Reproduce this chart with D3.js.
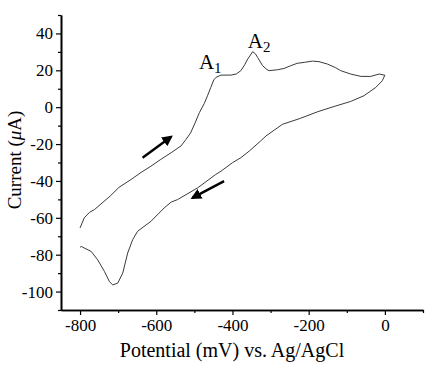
<!DOCTYPE html>
<html>
<head>
<meta charset="utf-8">
<script src="https://cdn.jsdelivr.net/npm/d3@7"></script>
<style>
    body { margin: 0; background: #fff; }
    svg { display: block; }
</style>
</head>
<body>
<svg width="430" height="375"></svg>
<script>
// forward scan (-800 -> 0 mV)
const forwardPotential = [-800, -789, -775, -762, -745, -720, -698, -666, -640, -614, -588, -561, -535, -522, -510, -498, -487, -474, -465, -457, -449, -443, -430, -404, -390, -378, -368, -360, -347, -340, -334, -321, -310, -304, -282, -265, -247, -230, -212, -190, -173, -151, -130, -116, -90, -63, -37, -15, -2, 0];
const forwardCurrent = [-65.5, -60, -57, -55.5, -52.5, -48, -43.5, -39.2, -35.4, -32, -28.3, -24.7, -21, -17.5, -14, -8.5, -3, 2, 6.5, 10.7, 14.8, 16.2, 17.4, 17.4, 18, 19.8, 23, 26.1, 30.1, 29, 27, 22.5, 20.5, 19.8, 20.3, 21, 22.5, 23.8, 24.3, 25, 24.7, 23.4, 21.5, 19.8, 18, 16.7, 16.7, 18, 17.4, 17.4];

// reverse scan (0 -> -800 mV)
const reversePotential = [0, -7, -24, -55, -90, -133, -177, -221, -269, -312, -326, -356, -378, -400, -430, -444, -491, -544, -561, -579, -614, -649, -662, -675, -688, -701, -714, -723, -736, -754, -771, -784, -797, -800];
const reverseCurrent = [17.4, 14.3, 10.7, 6.2, 3.1, 0.4, -2.5, -6, -9.3, -15.6, -18.3, -23.8, -27.4, -30.1, -34.7, -36.5, -43.7, -50.1, -51.5, -54.6, -61.9, -67.3, -71.9, -79.1, -90, -95.4, -96.4, -94.6, -89.1, -82.7, -78.2, -76.9, -75.5, -76];

const xTicks = [-800, -600, -400, -200, 0];
const xMinorTicks = [-700, -500, -300, -100, 100];
const yTicks = [-100, -80, -60, -40, -20, 0, 20, 40];
const yMinorTicks = [-110, -90, -70, -50, -30, -10, 10, 30, 50];

// arrows: [tail, head] in data units
const arrows = [
    [[-636, -27.4], [-561, -16]],
    [[-422, -40.1], [-505, -49.2]]
];

const svg = d3.select('svg');
const serif = '"Liberation Serif", "Times New Roman", serif';

const xScale = d3.scaleLinear()
    .domain([-850, 100])
    .range([61, 423]);
const yScale = d3.scaleLinear()
    .domain([-110, 50])
    .range([310, 15]);

// Curve
const line = d3.line()
    .x(d => xScale(d[0]))
    .y(d => yScale(d[1]));
const forward = forwardPotential.map((v, i) => [v, forwardCurrent[i]]);
const reverse = reversePotential.map((v, i) => [v, reverseCurrent[i]]);

svg.append('path')
    .datum(forward.concat(reverse))
    .attr('d', line)
    .attr('fill', 'none')
    .attr('stroke', '#3a3a3a')
    .attr('stroke-width', 1)
    .attr('stroke-linejoin', 'round');

// Axes
const xAxis = svg.append('g')
    .attr('transform', `translate(0, ${yScale(-110)})`)
    .call(d3.axisBottom(xScale).tickValues(xTicks).tickSize(5).tickPadding(4).tickSizeOuter(0).tickFormat(d3.format('d')));
svg.append('g')
    .attr('transform', `translate(0, ${yScale(-110)})`)
    .call(d3.axisBottom(xScale).tickValues(xMinorTicks).tickSize(3).tickSizeOuter(0).tickFormat(''));
const yAxis = svg.append('g')
    .attr('transform', `translate(${xScale(-850)}, 0)`)
    .call(d3.axisLeft(yScale).tickValues(yTicks).tickSize(5).tickPadding(3).tickSizeOuter(0).tickFormat(d3.format('d')));
svg.append('g')
    .attr('transform', `translate(${xScale(-850)}, 0)`)
    .call(d3.axisLeft(yScale).tickValues(yMinorTicks).tickSize(3).tickSizeOuter(0).tickFormat(''));

svg.selectAll('.domain').attr('stroke', '#000').attr('stroke-width', 1.6);
svg.selectAll('.tick line').attr('stroke', '#000').attr('stroke-width', 1.2);
svg.selectAll('.tick text')
    .style('font-family', serif)
    .style('font-size', '17px')
    .attr('fill', '#000')
    .text(function () { return this.textContent.replace('\u2212', '-'); });

// Labels
svg.append('text')
    .text('Potential (mV) vs. Ag/AgCl')
    .attr('x', 232)
    .attr('y', 357)
    .style('text-anchor', 'middle')
    .style('font-family', serif)
    .style('font-size', '20px');
const yLabel = svg.append('text')
    .attr('x', -160)
    .attr('y', 21)
    .attr('transform', 'rotate(-90)')
    .style('text-anchor', 'middle')
    .style('font-family', serif)
    .style('font-size', '19px');
yLabel.append('tspan').text('Current (');
yLabel.append('tspan').text('\u03bc').style('font-style', 'italic');
yLabel.append('tspan').text('A)');

// Peak labels
const peaks = [
    { name: 'A', sub: '1', v: -488, i: 20.7 },
    { name: 'A', sub: '2', v: -360, i: 32 }
];
peaks.forEach(p => {
    const t = svg.append('text')
        .attr('x', xScale(p.v))
        .attr('y', yScale(p.i))
        .style('font-family', serif)
        .style('font-size', '21px');
    t.append('tspan').text(p.name);
    t.append('tspan').text(p.sub).attr('dy', 4).style('font-size', '15px');
});

// Arrows
svg.append('defs').append('marker')
    .attr('id', 'head')
    .attr('viewBox', '0 0 10 10')
    .attr('refX', 8)
    .attr('refY', 5)
    .attr('markerWidth', 4.5)
    .attr('markerHeight', 4.5)
    .attr('orient', 'auto')
    .append('path')
    .attr('d', 'M0,0 L10,5 L0,10 Z')
    .attr('fill', '#000');

arrows.forEach(a => {
    svg.append('line')
        .attr('x1', xScale(a[0][0]))
        .attr('y1', yScale(a[0][1]))
        .attr('x2', xScale(a[1][0]))
        .attr('y2', yScale(a[1][1]))
        .attr('stroke', '#000')
        .attr('stroke-width', 2.4)
        .attr('marker-end', 'url(#head)');
});
</script>
</body>
</html>
